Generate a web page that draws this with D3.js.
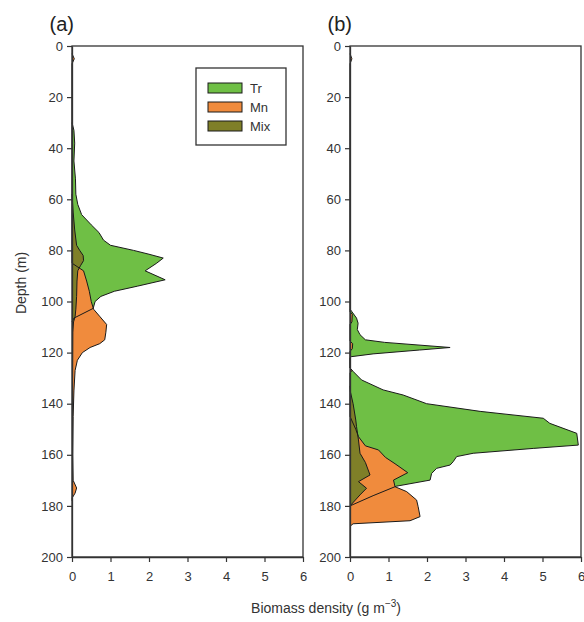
<!DOCTYPE html>
<html>
<head>
<meta charset="utf-8">
<script src="https://cdn.jsdelivr.net/npm/d3@7"></script>
<style>
	body { margin: 0; background: #fff; }
	text { font-family: "Liberation Sans", Arial, sans-serif; }
</style>
</head>
<body>
<svg id="chart"></svg>
<script>
// depth (m), biomass density (g m-3)
var seriesNames = ["Tr", "Mn", "Mix"];
var depthTicks = [0, 20, 40, 60, 80, 100, 120, 140, 160, 180, 200];
var densityTicks = [0, 1, 2, 3, 4, 5, 6];

var trA = [[30,0],[33,0.05],[38,0.07],[45,0.05],[52,0.09],[58,0.1],[62,0.15],[66,0.25],[70,0.5],[73,0.7],
	[76,0.82],[78,1.0],[80,1.6],[81.5,2.0],[83,2.37],[85,2.2],[88,1.9],[91.5,2.42],[94,1.7],[96,1.1],
	[98,0.75],[100,0.6],[102.7,0.55],[106.5,0.05],[108,0]];
var mnA = [[3,0],[5,0.06],[7,0],[85,0],[88,0.3],[92,0.38],[96,0.45],[100,0.5],[103,0.56],[106,0.73],
	[109,0.9],[112,0.88],[115,0.85],[116.5,0.72],[118,0.47],[120,0.27],[123,0.14],[127,0.08],[135,0.05],
	[145,0.03],[160,0.02],[170,0.03],[173,0.12],[175,0.08],[177,0]];
var mixA = [[58,0],[65,0.03],[72,0.07],[78,0.12],[80,0.2],[82,0.29],[84,0.3],[86,0.22],[88,0.15],[92,0.13],
	[98,0.12],[103,0.1],[106,0.08],[108,0.04],[112,0.02],[140,0.01],[176,0.01],[178,0]];

var trB = [[103,0],[104,0.05],[106.5,0.17],[108.5,0.21],[111,0.19],[113,0.26],[115,0.4],[116,0.9],[118,2.6],
	[119,1.8],[120.5,0.6],[121.6,0.03],[122,0],[126,0],[127.5,0.09],[130.7,0.3],[134.6,0.86],[136.6,1.38],
	[140,1.99],[143,3.38],[145.7,5.02],[147.7,5.19],[151.6,5.89],[156.2,5.93],[157.5,4.76],[159.4,3.2],
	[160.7,2.77],[162.7,2.68],[164,2.6],[165.3,2.25],[167.3,2.12],[169.9,2.08],[172.3,1.2],[176,0.6],[180,0]];
var mnB = [[3,0],[5,0.05],[7,0],[104,0],[105,0.06],[108,0.05],[109,0],[115.5,0],[116.5,0.07],[118.5,0.06],
	[119.5,0],[126,0],[127,0.05],[128,0],[145,0],[150,0.15],[152.9,0.22],[156.5,0.4],[158.1,0.74],[161,0.92],
	[163.5,1.17],[167,1.5],[169.9,1.13],[172.5,1.17],[174.4,1.47],[177.7,1.73],[180.3,1.77],[184.2,1.82],
	[185.8,1.56],[187,0.08],[188,0]];
var mixB = [[133,0],[135.3,0.01],[140,0.08],[146.4,0.15],[149,0.17],[154.2,0.22],[159.4,0.26],[163,0.4],
	[167.9,0.52],[170.5,0.22],[173.1,0.43],[175.7,0.26],[180,0]];

var width = 584;
var height = 622;
var color = d3.scaleOrdinal().domain(seriesNames).range(["#6fbf45", "#f08b3d", "#7f7f28"]);
var ink = "#333";

var svg = d3.select("#chart").attr("width", width).attr("height", height);

var y = d3.scaleLinear().domain([0, 200]).range([46, 557]);

function drawPanel(left, right, label, data) {
	var x = d3.scaleLinear().domain([0, 6]).range([left, right]);
	var g = svg.append("g");

	var area = d3.area()
		.y(function(d) { return y(d[0]); })
		.x0(x(0))
		.x1(function(d) { return x(d[1]); });
	var edge = d3.line()
		.y(function(d) { return y(d[0]); })
		.x(function(d) { return x(d[1]); });

	// fills first, outlines on top so the hidden edges still show
	g.append("g").selectAll("path")
		.data(data)
		.enter().append("path")
		.attr("d", function(d) { return area(d.values); })
		.attr("fill", function(d) { return color(d.name); })
		.attr("stroke", "none");

	g.append("g").selectAll("path")
		.data(data)
		.enter().append("path")
		.attr("d", function(d) { return edge(d.values); })
		.attr("fill", "none")
		.attr("stroke", "#1a1a1a")
		.attr("stroke-width", 1);

	g.append("rect")
		.attr("x", left)
		.attr("y", y(0))
		.attr("width", right - left)
		.attr("height", y(200) - y(0))
		.attr("fill", "none")
		.attr("stroke", ink)
		.attr("stroke-width", 1.3);

	var yAxis = g.append("g")
		.attr("transform", "translate(" + left + ",0)")
		.call(d3.axisLeft(y).tickValues(depthTicks).tickSize(5).tickSizeOuter(0).tickPadding(4));
	var xAxis = g.append("g")
		.attr("transform", "translate(0," + y(200) + ")")
		.call(d3.axisBottom(x).tickValues(densityTicks).tickFormat(d3.format("d"))
			.tickSize(5).tickSizeOuter(0).tickPadding(10));

	[yAxis, xAxis].forEach(function(a) {
		a.select(".domain").attr("stroke", ink).attr("stroke-width", 1.3);
		a.selectAll(".tick line").attr("stroke", ink).attr("stroke-width", 1.2);
		a.selectAll(".tick text")
			.attr("fill", ink)
			.style("font-family", "Liberation Sans, Arial, sans-serif")
			.style("font-size", "13px");
	});

	g.append("text")
		.attr("x", left + 2)
		.attr("y", 31)
		.attr("text-anchor", "end")
		.style("font-size", "20px")
		.attr("fill", "#222")
		.text(label);

	return x;
}

drawPanel(72, 303, "(a)", [
	{name: "Tr", values: trA},
	{name: "Mn", values: mnA},
	{name: "Mix", values: mixA}
]);
drawPanel(350, 581, "(b)", [
	{name: "Tr", values: trB},
	{name: "Mn", values: mnB},
	{name: "Mix", values: mixB}
]);

// legend inside panel (a)
var legend = svg.append("g").attr("transform", "translate(196,68)");
legend.append("rect")
	.attr("width", 90)
	.attr("height", 77)
	.attr("fill", "#fff")
	.attr("stroke", ink)
	.attr("stroke-width", 1.3);

var item = legend.selectAll(".legend")
	.data(seriesNames)
	.enter().append("g")
	.attr("class", "legend")
	.attr("transform", function(d, i) { return "translate(12," + (15 + i * 19) + ")"; });

item.append("rect")
	.attr("width", 34)
	.attr("height", 10)
	.attr("fill", color)
	.attr("stroke", "#1a1a1a")
	.attr("stroke-width", 1);

item.append("text")
	.attr("x", 42)
	.attr("y", 5)
	.attr("dy", ".35em")
	.attr("fill", ink)
	.style("font-size", "13px")
	.text(function(d) { return d; });

// axis titles
svg.append("text")
	.attr("transform", "translate(26,283) rotate(-90)")
	.attr("text-anchor", "middle")
	.attr("fill", ink)
	.style("font-size", "14px")
	.text("Depth (m)");

var xTitle = svg.append("text")
	.attr("x", 326)
	.attr("y", 613)
	.attr("text-anchor", "middle")
	.attr("fill", ink)
	.style("font-size", "14px");
xTitle.append("tspan").text("Biomass density (g m");
xTitle.append("tspan").attr("dy", -6).style("font-size", "10px").text("\u22123");
xTitle.append("tspan").attr("dy", 6).text(")");
</script>
</body>
</html>
